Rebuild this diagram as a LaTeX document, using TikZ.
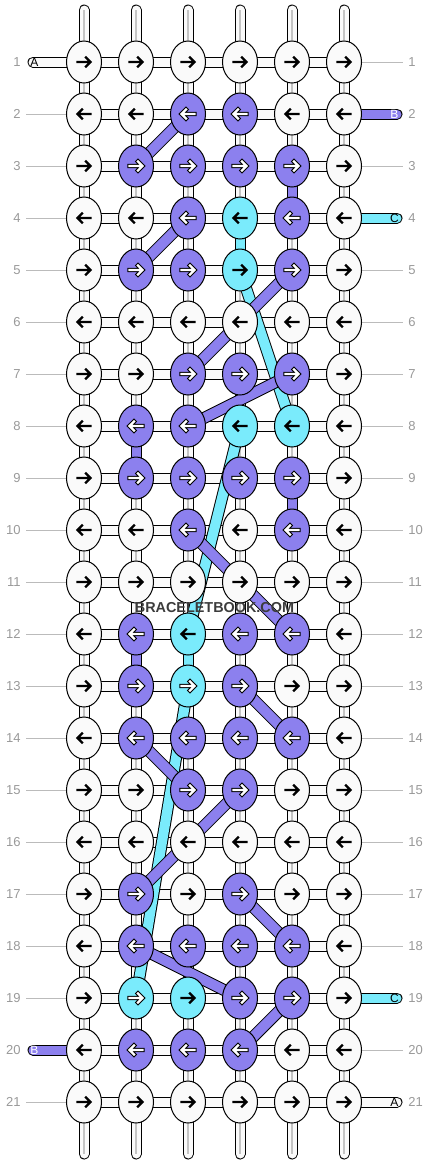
\documentclass[tikz,border=0pt]{standalone}
\usepackage{fontspec}
\setmainfont{Liberation Sans}
\usepackage{xcolor}
\usepackage{tikz}
\usetikzlibrary{shapes.geometric}
\definecolor{knotW}{HTML}{FAFAFA}
\definecolor{knotP}{HTML}{8C80EE}
\definecolor{knotC}{HTML}{7AEBFC}
\definecolor{knotD}{HTML}{7AEBFC}
\definecolor{rimW}{HTML}{FAFAFA}
\definecolor{rimP}{HTML}{000000}
\definecolor{rimC}{HTML}{7AEBFC}
\definecolor{rimD}{HTML}{000000}
\definecolor{tipW}{HTML}{000000}
\definecolor{tipP}{HTML}{FFFFFF}
\definecolor{tipC}{HTML}{000000}
\definecolor{tipD}{HTML}{FFFFFF}
\definecolor{rowgray}{HTML}{999999}
\definecolor{guide}{HTML}{BBBBBB}
\definecolor{strand}{HTML}{C4C4C4}
\definecolor{wmgray}{HTML}{3C3C3C}
\tikzset{
  thread/.style={draw=black, line width=0.5pt, double distance=4.5pt},
  band/.style={draw=black, line width=0.5pt, double distance=5pt},
  knot/.style={ellipse, draw=black, line width=0.5pt, minimum width=17.5pt, minimum height=21pt, inner sep=0pt},
  rowno/.style={text=rowgray, inner sep=1pt, font=\fontsize{6.5}{7}\selectfont},
  tabtxt/.style={inner sep=0pt, font=\fontsize{6}{7}\selectfont},
  guideline/.style={draw=guide, line width=0.5pt},
  pointer/.style={line cap=rect, line join=miter},
}

\begin{document}
\begin{tikzpicture}[x=0.5pt, y=-0.5pt]
  \useasboundingbox (0,0) rectangle (428,1164);
  \foreach \r in {1,...,21}
    \foreach \c in {1,...,6}
      \coordinate (p\r-\c) at ({32+52*\c},{10+52*\r});

  % strings at top and bottom
  \foreach \c in {1,...,6} {
    \coordinate (top\c) at ({32+52*\c},10);
    \coordinate (bot\c) at ({32+52*\c},1154);
    \draw[thread, double=knotW, line cap=round] (top\c) -- (p1-\c);
    \draw[thread, double=knotW, line cap=round] (p21-\c) -- (bot\c);
    \draw[draw=strand, line width=0.75pt] (top\c) -- (p1-\c) (p21-\c) -- (bot\c);
  }
  \foreach \r [evaluate=\r as \s using int(\r+1)] in {1,...,20}
    \foreach \c in {1,...,6} {
      \draw[thread, double=knotW] (p\r-\c) -- (p\s-\c);
      \draw[draw=strand, line width=0.75pt] (p\r-\c) -- (p\s-\c);
    }
  \foreach \r/\c/\k in {3/5/P, 4/4/C, 8/2/P, 9/5/P, 12/2/P, 12/3/C} {
    \pgfmathtruncatemacro\s{\r+1}
    \draw[thread, double=knot\k] (p\r-\c) -- (p\s-\c);
  }
  \foreach \r in {1,...,21}
    \draw[thread, double=knotW] (p\r-1) -- (p\r-6);

  % row numbers
  \foreach \r in {1,...,21} {
    \node[rowno, anchor=east] (nl\r) at (23,{10+52*\r}) {\r};
    \node[rowno, anchor=west] (nr\r) at (406,{10+52*\r}) {\r};
  }
  \foreach \r in {2,3,4,5,6,7,8,9,10,11,12,13,14,15,16,17,18,19,21}
    \draw[guideline] ([xshift=1.5pt]nl\r.east) -- (p\r-1);
  \foreach \r in {1,3,5,6,7,8,9,10,11,12,13,14,15,16,17,18,20}
    \draw[guideline] (p\r-6) -- ([xshift=-1.5pt]nr\r.west);

  % thread ends
  \coordinate (endA1) at (33,62);
  \coordinate (endB2) at (397,114);
  \coordinate (endC4) at (397,218);
  \coordinate (endC19) at (397,998);
  \coordinate (endB20) at (33,1050);
  \coordinate (endA21) at (397,1102);
  \draw[thread, double=knotW, line cap=round] (endA1) -- (p1-1);
  \draw[thread, double=knotP, line cap=round] (p2-6) -- (endB2);
  \draw[thread, double=knotC, line cap=round] (p4-6) -- (endC4);
  \draw[thread, double=knotC, line cap=round] (p19-6) -- (endC19);
  \draw[thread, double=knotP, line cap=round] (endB20) -- (p20-1);
  \draw[thread, double=knotW, line cap=round] (p21-6) -- (endA21);
  \node[tabtxt] (tA1) at (34.5,62) {A};
  \node[tabtxt, text=white] (tB2) at (394.5,114) {B};
  \node[tabtxt] (tC4) at (394.5,218) {C};
  \node[tabtxt] (tC19) at (394.5,998) {C};
  \node[tabtxt, text=white] (tB20) at (34.5,1050) {B};
  \node[tabtxt] (tA21) at (394.5,1102) {A};

  % moving threads
  \foreach \a/\b in {5-4/8-5, 8-4/12-3, 13-3/19-2}
    \draw[band, double=knotC] (p\a) -- (p\b);
  \foreach \a/\b in {2-3/3-2, 4-3/5-2, 5-5/7-3, 7-5/8-3, 10-3/12-5, 13-4/14-5,
                     14-2/15-3, 15-4/17-2, 17-4/18-5, 18-2/19-4, 19-5/20-4}
    \draw[band, double=knotP] (p\a) -- (p\b);

  % knots
  \foreach \row [count=\r] in {{W,W,W,W,W,W},{W,W,P,P,W,W},{W,P,P,P,P,W},
      {W,W,P,C,P,W},{W,P,P,C,P,W},{W,W,W,W,W,W},{W,W,P,P,P,W},
      {W,P,P,C,C,W},{W,P,P,P,P,W},{W,W,P,W,P,W},{W,W,W,W,W,W},
      {W,P,C,P,P,W},{W,P,D,P,W,W},{W,P,P,P,P,W},{W,W,P,P,W,W},
      {W,W,W,W,W,W},{W,P,W,P,W,W},{W,P,P,P,P,W},{W,D,C,P,P,W},
      {W,P,P,P,W,W},{W,W,W,W,W,W}}
    \foreach \k [count=\c] in \row {
      \node[knot, fill=knot\k] (k\r-\c) at (p\r-\c) {};
      \pgfmathsetmacro\d{1-2*mod(\r+1,2)}
      \draw[pointer, shift={(k\r-\c.center)}, xscale=\d, draw=rim\k, line width=2.2pt]
        (-6.5,0) -- (5,0) (2,-4.5) -- (6.5,0) -- (2,4.5);
      \draw[pointer, shift={(k\r-\c.center)}, xscale=\d, draw=tip\k, line width=1.2pt]
        (-6.5,0) -- (5,0) (2,-4.5) -- (6.5,0) -- (2,4.5);
    }

  \node[text=wmgray, font=\bfseries\fontsize{7.2}{8}\selectfont] (brand) at (214.5,608) {BRACELETBOOK.COM};
\end{tikzpicture}
\end{document}
